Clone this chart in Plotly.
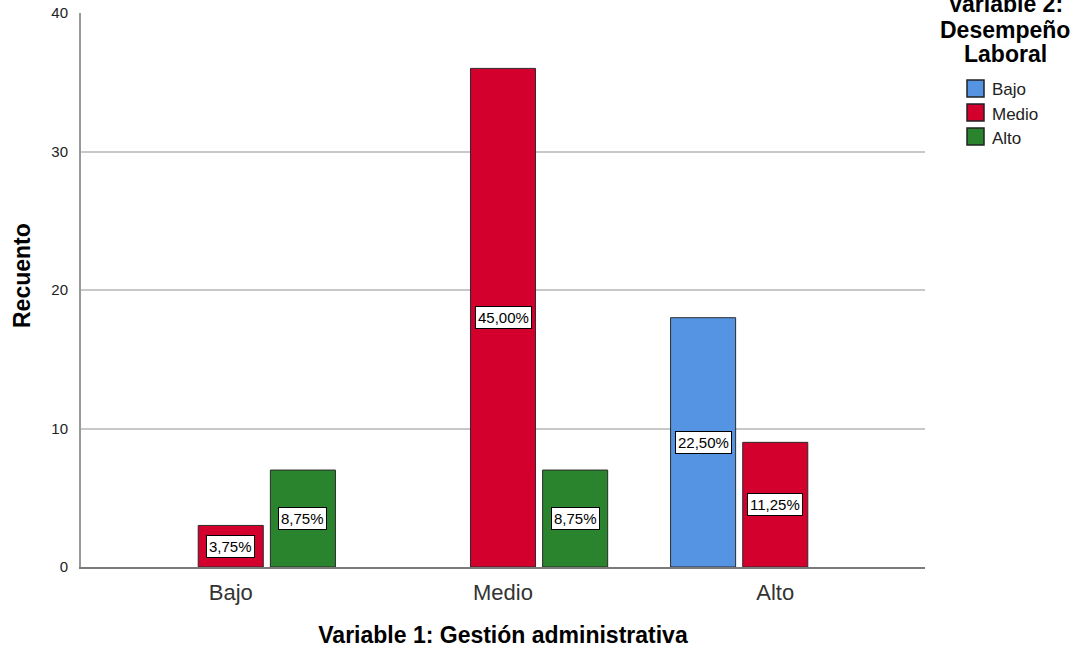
import plotly.graph_objects as go

# Counts by Variable 1 (x categories) and Variable 2 (series)
categories = ["Bajo", "Medio", "Alto"]
series_names = ["Bajo", "Medio", "Alto"]
counts_bajo = [None, None, 18]
counts_medio = [3, 36, 9]
counts_alto = [7, 7, None]
colors = ["#5594e2", "#d3002d", "#2a842e"]

all_counts = [counts_bajo, counts_medio, counts_alto]
total = sum(v for s in all_counts for v in s if v)

bar_w = 0.239
step = 0.265
centers = [-step, 0.0, step]
xpos = list(range(len(categories)))

# plot-area geometry in pixels (used to place the legend block and titles)
W, H = 1074, 649
ML, MR, MT, MB = 81, 149, 13, 82
PW, PH = W - ML - MR, H - MT - MB


def px_x(px):
    return (px - ML) / PW


def px_y(py):
    return (H - MB - py) / PH


fig = go.Figure()
for name, vals, col, c in zip(series_names, all_counts, colors, centers):
    fig.add_trace(go.Bar(
        x=xpos, y=vals, name=name,
        width=bar_w, offset=c - bar_w / 2,
        marker=dict(color=col, line=dict(color="#2b2b2b", width=1)),
        showlegend=False,
    ))
    for xi, v in zip(xpos, vals):
        if v:
            pct = f"{v / total * 100:.2f}".replace(".", ",") + "%"
            fig.add_annotation(
                x=xi + c, y=v / 2, xref="x", yref="y", text=pct,
                showarrow=False, bgcolor="white", bordercolor="black",
                borderwidth=1, borderpad=2,
                font=dict(family="Liberation Sans", size=15, color="black"),
            )

# Legend title, one annotation per line
for line, py in zip(["Variable 2:", "Desempeño", "Laboral"], [4, 30, 54]):
    fig.add_annotation(
        xref="paper", yref="paper", x=px_x(1005), y=px_y(py),
        xanchor="center", yanchor="middle", showarrow=False,
        text=f"<b>{line}</b>",
        font=dict(family="Liberation Sans", size=23, color="black"),
    )

# Legend entries: colour swatch + label
for i, (name, col) in enumerate(zip(series_names, colors)):
    top = 80 + i * 24
    fig.add_shape(
        type="rect", xref="paper", yref="paper",
        x0=px_x(967), x1=px_x(984), y0=px_y(top + 17), y1=px_y(top),
        fillcolor=col, line=dict(color="#222", width=1.5),
    )
    fig.add_annotation(
        xref="paper", yref="paper", x=px_x(990), y=px_y(top + 10),
        xanchor="left", yanchor="middle", showarrow=False, text=name,
        font=dict(family="Liberation Sans", size=17, color="#222"),
    )

# Y-axis title
fig.add_annotation(
    xref="paper", yref="paper", x=px_x(22), y=px_y(276),
    xanchor="center", yanchor="middle", showarrow=False, textangle=-90,
    text="<b>Recuento</b>",
    font=dict(family="Liberation Sans", size=23, color="black"),
)

fig.update_layout(
    width=W, height=H,
    margin=dict(l=ML, r=MR, t=MT, b=MB),
    plot_bgcolor="white", paper_bgcolor="white",
    barmode="overlay",
    showlegend=False,
    font=dict(family="Liberation Sans", color="#222"),
)

fig.update_xaxes(
    range=[-0.55, 2.55], tickvals=xpos, ticktext=categories,
    tickfont=dict(size=22, color="#333"), showgrid=False,
    showline=True, linecolor="#7a7a7a", linewidth=2, ticks="",
    ticklabelstandoff=5, automargin=False,
    title=dict(text="<b>Variable 1: Gestión administrativa</b>",
               font=dict(size=23, color="black"), standoff=22),
    zeroline=False,
)
fig.update_yaxes(
    range=[0, 40], tickvals=[0, 10, 20, 30, 40],
    tickfont=dict(size=15, color="#222"),
    showgrid=True, gridcolor="#c8c8c8", gridwidth=1.5,
    showline=True, linecolor="#999999", linewidth=2, ticks="",
    ticklabelstandoff=8, zeroline=False, automargin=False,
)

fig.write_html("out.html")
